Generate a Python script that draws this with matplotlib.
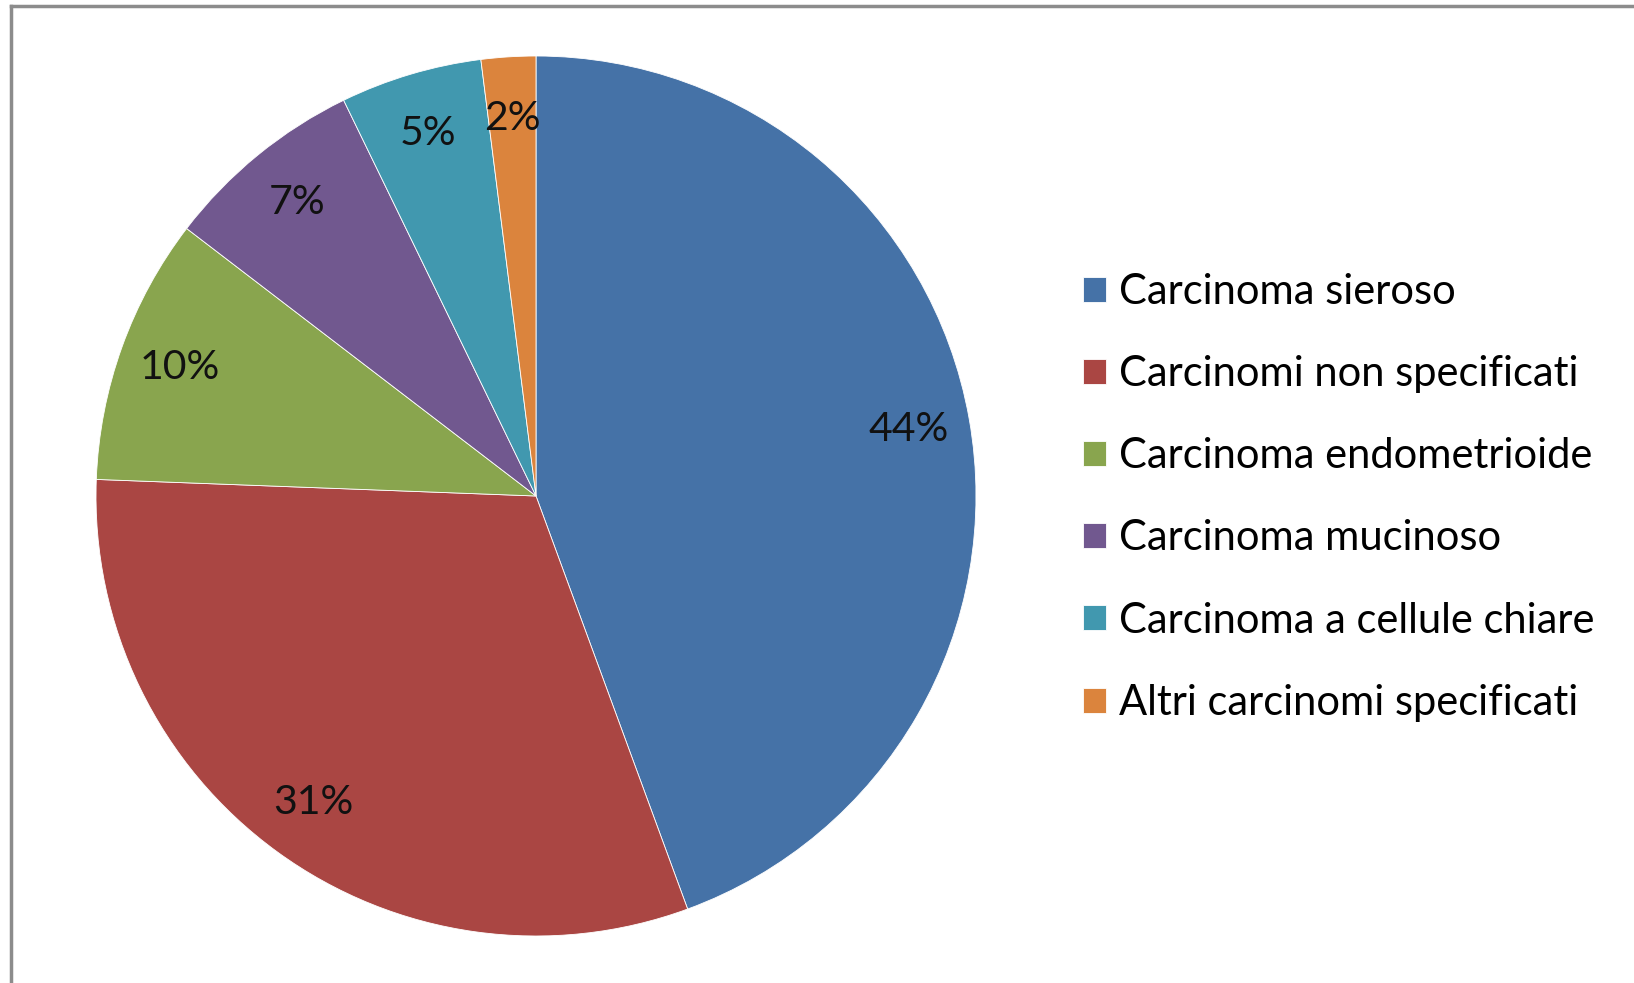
import matplotlib.pyplot as plt
from matplotlib.lines import Line2D

# dati del grafico
categorie = ['Carcinoma sieroso', 'Carcinomi non specificati', 'Carcinoma endometrioide',
             'Carcinoma mucinoso', 'Carcinoma a cellule chiare', 'Altri carcinomi specificati']
valori = [44.4, 31.2, 9.8, 7.4, 5.2, 2.0]
colori = ['#4572A7', '#AA4643', '#89A54E', '#71588F', '#4198AF', '#DB843D']

plt.rcParams['font.family'] = ['Lato', 'DejaVu Sans']

W, H = 1634, 983
fig = plt.figure(figsize=(W / 100, H / 100), dpi=100)
ax = fig.add_axes([0, 0, 1, 1])
ax.set_xlim(0, W)
ax.set_ylim(0, H)
ax.set_aspect('equal')
ax.axis('off')

# torta
wedges, testi, pct = ax.pie(valori, colors=colori, startangle=90, counterclock=False,
                            center=(536, H - 496), radius=440,
                            autopct=lambda p: f'{p:.0f}%', pctdistance=0.86,
                            wedgeprops={'edgecolor': 'white', 'linewidth': 0.6},
                            textprops={'fontsize': 29.5, 'color': '#111111'})
ax.set_xlim(0, W)
ax.set_ylim(0, H)

# legenda
fig.legend(wedges, categorie, loc='center left', bbox_to_anchor=(0.663, 0.494),
           frameon=False, fontsize=30, handlelength=0.55, handleheight=0.55,
           handletextpad=0.3, labelspacing=1.06, borderpad=0, borderaxespad=0)

# cornice grigia
fig.add_artist(Line2D([11 / W, 11 / W], [0, 1 - 6 / H], color='#8c8c8c', lw=2.5))
fig.add_artist(Line2D([11 / W, 1], [1 - 6 / H, 1 - 6 / H], color='#8c8c8c', lw=2.5))

fig.savefig('out.png', dpi=100)
